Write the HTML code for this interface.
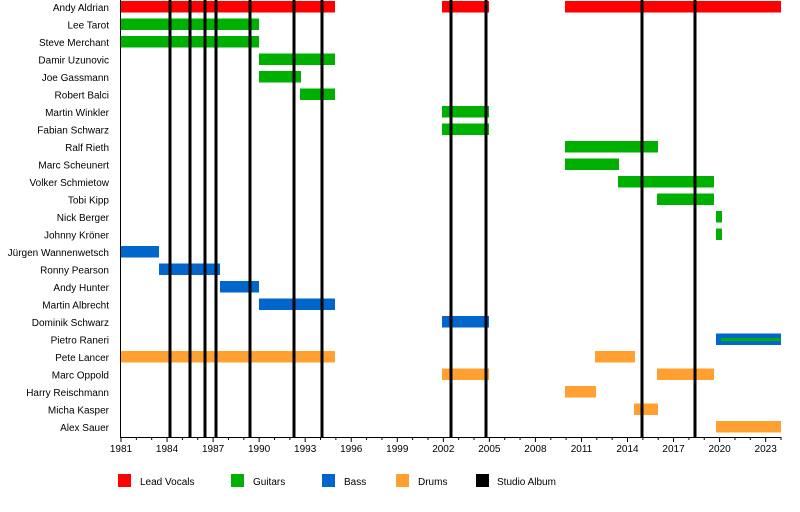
<!DOCTYPE html>
<html><head><meta charset="utf-8"><style>
html,body{margin:0;padding:0;background:#fff;}
svg{display:block;font-family:"Liberation Sans","DejaVu Sans",sans-serif;}
</style></head><body>
<svg width="800" height="512" viewBox="0 0 800 512" xmlns="http://www.w3.org/2000/svg">
<g font-size="10" text-anchor="end" fill="#000">
<text x="109" y="11">Andy Aldrian</text>
<text x="109" y="28.5">Lee Tarot</text>
<text x="109" y="46">Steve Merchant</text>
<text x="109" y="63.5">Damir Uzunovic</text>
<text x="109" y="81">Joe Gassmann</text>
<text x="109" y="98.5">Robert Balci</text>
<text x="109" y="116">Martin Winkler</text>
<text x="109" y="133.5">Fabian Schwarz</text>
<text x="109" y="151">Ralf Rieth</text>
<text x="109" y="168.5">Marc Scheunert</text>
<text x="109" y="186">Volker Schmietow</text>
<text x="109" y="203.5">Tobi Kipp</text>
<text x="109" y="221">Nick Berger</text>
<text x="109" y="238.5">Johnny Kröner</text>
<text x="109" y="256">Jürgen Wannenwetsch</text>
<text x="109" y="273.5">Ronny Pearson</text>
<text x="109" y="291">Andy Hunter</text>
<text x="109" y="308.5">Martin Albrecht</text>
<text x="109" y="326">Dominik Schwarz</text>
<text x="109" y="343.5">Pietro Raneri</text>
<text x="109" y="361">Pete Lancer</text>
<text x="109" y="378.5">Marc Oppold</text>
<text x="109" y="396">Harry Reischmann</text>
<text x="109" y="413.5">Micha Kasper</text>
<text x="109" y="431">Alex Sauer</text>
</g>
<g>
<!-- red -->
<rect x="121" y="1" width="214" height="11.5" fill="#ff0000"/>
<rect x="442" y="1" width="47" height="11.5" fill="#ff0000"/>
<rect x="565" y="1" width="216" height="11.5" fill="#ff0000"/>
<!-- green -->
<g fill="#00b000">
<rect x="121" y="18.5" width="138" height="11.5"/>
<rect x="121" y="36" width="138" height="11.5"/>
<rect x="259" y="53.5" width="76" height="11.5"/>
<rect x="259" y="71" width="42" height="11.5"/>
<rect x="300" y="88.5" width="35" height="11.5"/>
<rect x="442" y="106" width="47" height="11.5"/>
<rect x="442" y="123.5" width="47" height="11.5"/>
<rect x="565" y="141" width="93" height="11.5"/>
<rect x="565" y="158.5" width="54" height="11.5"/>
<rect x="618" y="176" width="96" height="11.5"/>
<rect x="657" y="193.5" width="57" height="11.5"/>
<rect x="716" y="211" width="6" height="11.5"/>
<rect x="716" y="228.5" width="6" height="11.5"/>
</g>
<g fill="#0066cc">
<rect x="121" y="246" width="38" height="11.5"/>
<rect x="159" y="263.5" width="61" height="11.5"/>
<rect x="220" y="281" width="39" height="11.5"/>
<rect x="259" y="298.5" width="76" height="11.5"/>
<rect x="442" y="316" width="47" height="11.5"/>
<rect x="716" y="333.5" width="65" height="11.5"/>
</g>
<rect x="721" y="338" width="60" height="3" fill="#00b000"/>
<g fill="#ffa030">
<rect x="121" y="351" width="214" height="11.5"/>
<rect x="442" y="368.5" width="47" height="11.5"/>
<rect x="595" y="351" width="40" height="11.5"/>
<rect x="657" y="368.5" width="57" height="11.5"/>
<rect x="565" y="386" width="31" height="11.5"/>
<rect x="634" y="403.5" width="24" height="11.5"/>
<rect x="716" y="421" width="65" height="11.5"/>
</g>
</g>
<g stroke="#000" stroke-width="3">
<line x1="170" y1="0" x2="170" y2="437"/>
<line x1="190" y1="0" x2="190" y2="437"/>
<line x1="205" y1="0" x2="205" y2="437"/>
<line x1="216" y1="0" x2="216" y2="437"/>
<line x1="250" y1="0" x2="250" y2="437"/>
<line x1="294" y1="0" x2="294" y2="437"/>
<line x1="322" y1="0" x2="322" y2="437"/>
<line x1="451" y1="0" x2="451" y2="437"/>
<line x1="486" y1="0" x2="486" y2="437"/>
<line x1="642" y1="0" x2="642" y2="437"/>
<line x1="695" y1="0" x2="695" y2="437"/>
</g>
<line x1="120.5" y1="0" x2="120.5" y2="437" stroke="#000" stroke-width="1"/>
<line x1="120" y1="437.5" x2="781" y2="437.5" stroke="#000" stroke-width="1"/>
<g stroke="#000" stroke-width="1" id="ticks"></g>
<g font-size="10" text-anchor="middle" fill="#000" id="labels"></g>
<g>
<rect x="118" y="474" width="13" height="13" fill="#ff0000"/>
<rect x="231" y="474" width="13" height="13" fill="#00b000"/>
<rect x="322" y="474" width="13" height="13" fill="#0066cc"/>
<rect x="396" y="474" width="13" height="13" fill="#ffa030"/>
<rect x="476" y="474" width="13" height="13" fill="#000"/>
</g>
<g font-size="10" fill="#000">
<text x="140" y="485">Lead Vocals</text>
<text x="253" y="485">Guitars</text>
<text x="344" y="485">Bass</text>
<text x="418" y="485">Drums</text>
<text x="497" y="485">Studio Album</text>
</g>
<script>
var t=document.getElementById('ticks'),l=document.getElementById('labels'),ns="http://www.w3.org/2000/svg";
var ppy=660/43;
for(var y=1981;y<=2024;y++){var x=121+(y-1981)*ppy;var major=(y-1981)%3==0&&y<=2023;
var ln=document.createElementNS(ns,'line');ln.setAttribute('x1',x);ln.setAttribute('x2',x);ln.setAttribute('y1',437);ln.setAttribute('y2',major?442:440);t.appendChild(ln);
if(major){var tx=document.createElementNS(ns,'text');tx.setAttribute('x',x);tx.setAttribute('y',452);tx.textContent=y;l.appendChild(tx);}}
</script>
</svg>
</body></html>
